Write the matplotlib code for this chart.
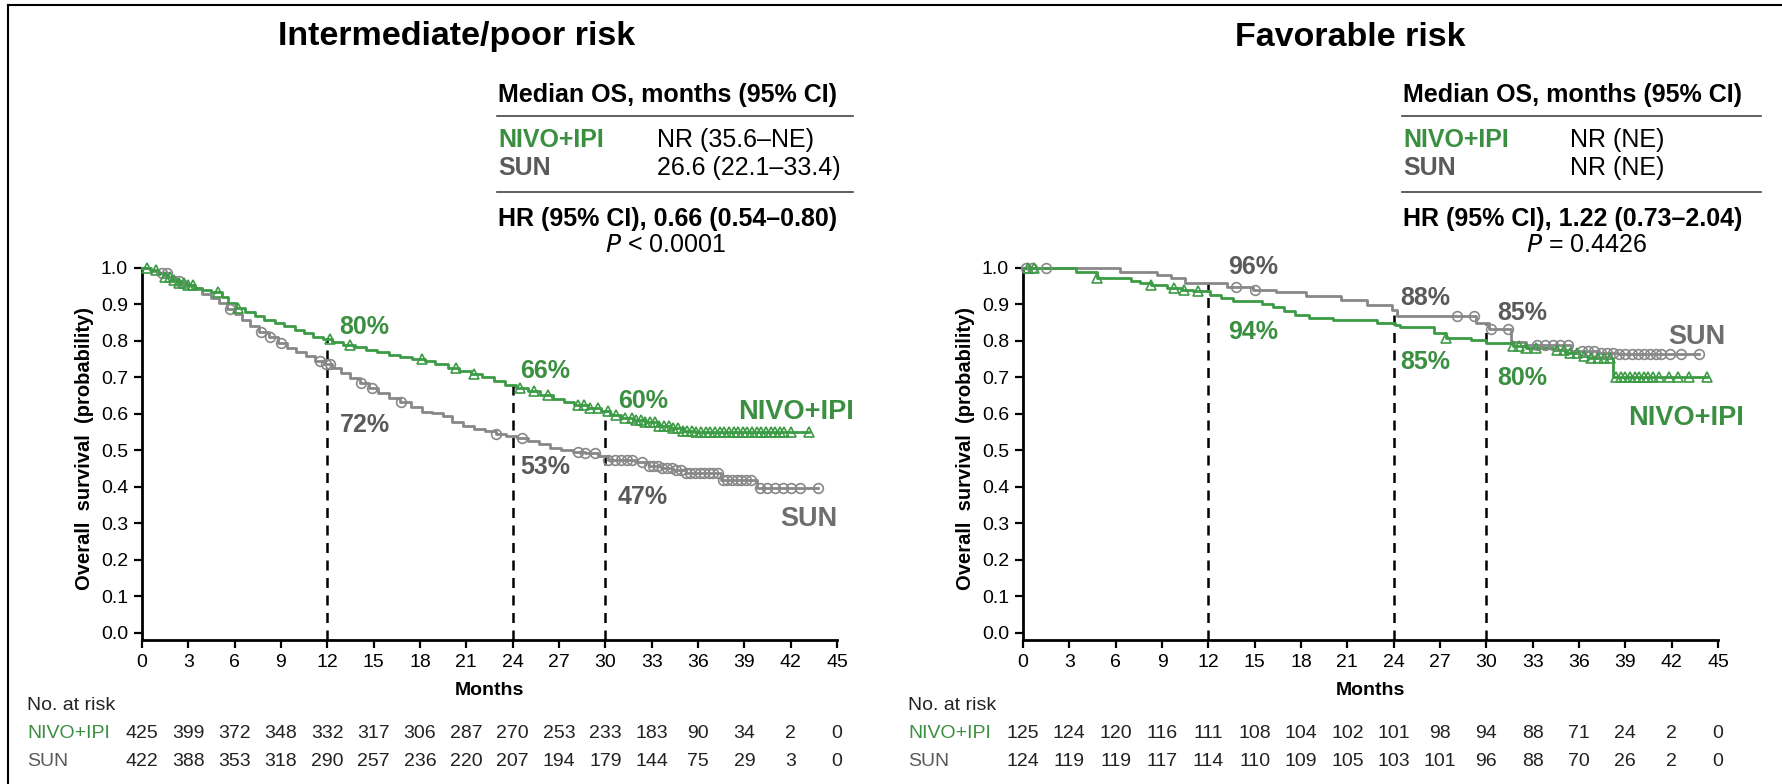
import numpy as np
import matplotlib
matplotlib.use('Agg')
import matplotlib.pyplot as plt
from matplotlib.lines import Line2D

# ---- data ----
months_ticks = [0, 3, 6, 9, 12, 15, 18, 21, 24, 27, 30, 33, 36, 39, 42, 45]
y_ticks = [0.0, 0.1, 0.2, 0.3, 0.4, 0.5, 0.6, 0.7, 0.8, 0.9, 1.0]

# Intermediate/poor risk
ip_nivo_t = [0, 0.5, 1.0, 1.4, 1.9, 2.4, 2.9, 3.4, 3.9, 4.5, 5.2, 5.6, 6.1, 6.7, 7.3, 7.9, 8.6, 9.2,
             9.9, 10.5, 11.1, 11.7, 12.3, 13.0, 13.8, 14.5, 15.2, 16.0, 16.7, 17.5, 18.3, 19.0, 19.8,
             20.5, 21.3, 22.0, 22.8, 23.5, 24.2, 25.0, 25.8, 26.6, 27.3, 28.0, 28.9, 29.7, 30.3, 31.0,
             31.8, 32.6, 33.4, 34.2, 35.0, 35.8]
ip_nivo_s = [1.0, 0.995, 0.985, 0.975, 0.968, 0.96, 0.952, 0.945, 0.94, 0.935, 0.92, 0.905, 0.89,
             0.878, 0.868, 0.858, 0.848, 0.84, 0.83, 0.822, 0.812, 0.805, 0.797, 0.789, 0.783, 0.776,
             0.769, 0.762, 0.755, 0.75, 0.744, 0.736, 0.727, 0.718, 0.709, 0.7, 0.69, 0.68, 0.671,
             0.662, 0.652, 0.642, 0.632, 0.624, 0.616, 0.609, 0.598, 0.59, 0.583, 0.577, 0.568,
             0.561, 0.554, 0.55]
ip_nivo_cens = [0.3, 0.9, 1.5, 1.8, 2.1, 2.4, 2.7, 3.0, 3.3, 4.9, 6.2, 12.2, 13.5, 18.1, 20.3, 21.5,
                24.5, 25.4, 26.3, 28.2, 28.6, 29.0, 29.5, 30.2, 30.7, 31.3, 31.7, 32.0, 32.3, 32.6,
                32.9, 33.2, 33.5, 33.8, 34.1, 34.4, 34.7, 35.0, 35.3, 35.6, 35.9, 36.2, 36.5, 36.8,
                37.1, 37.4, 37.7, 38.0, 38.3, 38.6, 38.9, 39.2, 39.5, 39.8, 40.1, 40.4, 40.7, 41.0,
                41.3, 41.6, 42.0, 43.2]
ip_sun_t = [0, 0.6, 1.1, 1.7, 2.2, 2.8, 3.3, 3.9, 4.5, 5.0, 5.5, 6.0, 6.5, 7.0, 7.6, 8.2, 8.8, 9.4,
            10.0, 10.6, 11.2, 11.8, 12.3, 12.9, 13.5, 14.1, 14.7, 15.3, 16.0, 16.7, 17.4, 18.1, 18.8,
            19.5, 20.1, 20.8, 21.5, 22.2, 22.9, 23.6, 24.3, 25.0, 25.7, 26.4, 27.1, 27.9, 28.7, 29.5,
            30.2, 31.9, 32.8, 33.6, 34.4, 35.2, 37.5, 39.8]
ip_sun_s = [1.0, 0.993, 0.985, 0.975, 0.963, 0.952, 0.942, 0.93, 0.917, 0.903, 0.888, 0.873, 0.858,
            0.842, 0.825, 0.81, 0.795, 0.782, 0.77, 0.758, 0.746, 0.736, 0.725, 0.712, 0.698, 0.684,
            0.67, 0.657, 0.644, 0.632, 0.62, 0.606, 0.602, 0.595, 0.578, 0.568, 0.56, 0.552, 0.546,
            0.54, 0.533, 0.527, 0.518, 0.508, 0.502, 0.497, 0.492, 0.485, 0.474, 0.469, 0.458,
            0.452, 0.446, 0.438, 0.419, 0.396]
ip_sun_cens = [1.3, 1.6, 2.4, 5.7, 7.7, 8.3, 9.0, 11.5, 11.9, 12.2, 14.2, 14.9, 16.8, 22.9, 24.6,
               28.2, 28.7, 29.3, 30.2, 30.6, 31.0, 31.4, 31.7, 32.4, 32.8, 33.1, 33.4, 33.7, 34.0,
               34.3, 34.6, 34.9, 35.2, 35.5, 35.8, 36.1, 36.4, 36.7, 37.0, 37.3, 37.6, 37.9, 38.2,
               38.5, 38.8, 39.1, 39.4, 40.0, 40.5, 41.0, 41.5, 42.0, 42.6, 43.8]
ip_risk_nivo = [425, 399, 372, 348, 332, 317, 306, 287, 270, 253, 233, 183, 90, 34, 2, 0]
ip_risk_sun = [422, 388, 353, 318, 290, 257, 236, 220, 207, 194, 179, 144, 75, 29, 3, 0]

# Favorable risk
fav_nivo_t = [0, 3.4, 4.8, 7.0, 7.6, 8.3, 9.3, 10.3, 11.0, 12.1, 12.8, 13.6, 15.5, 16.2, 16.9, 17.6,
              18.5, 20.1, 22.9, 24.1, 24.4, 26.6, 27.4, 29.0, 30.0, 31.7, 32.6, 34.3, 35.1, 36.0,
              36.6, 38.2]
fav_nivo_s = [1.0, 0.99, 0.973, 0.965, 0.959, 0.954, 0.945, 0.94, 0.936, 0.927, 0.918, 0.909, 0.9,
              0.893, 0.881, 0.872, 0.863, 0.858, 0.849, 0.845, 0.837, 0.823, 0.807, 0.803, 0.794,
              0.786, 0.78, 0.776, 0.768, 0.759, 0.752, 0.702]
fav_nivo_cens = [0.3, 0.7, 4.8, 8.3, 9.8, 10.4, 11.3, 27.4, 31.7, 32.1, 32.6, 33.2, 34.6, 35.0, 35.4,
                 35.9, 36.3, 36.8, 37.2, 37.6, 38.0, 38.4, 38.7, 39.0, 39.3, 39.6, 39.9, 40.2, 40.5,
                 40.8, 41.2, 41.8, 42.4, 43.1, 44.3]
fav_sun_t = [0, 6.3, 8.7, 9.6, 10.5, 13.2, 14.9, 16.4, 18.3, 20.6, 22.3, 23.9, 24.2, 29.3, 30.2,
             31.6, 32.6, 35.5, 37.3, 38.5]
fav_sun_s = [1.0, 0.99, 0.981, 0.972, 0.958, 0.949, 0.94, 0.934, 0.922, 0.911, 0.899, 0.885, 0.868,
             0.848, 0.832, 0.798, 0.789, 0.773, 0.768, 0.763]
fav_sun_cens = [0.2, 0.6, 1.5, 13.8, 15.0, 28.1, 29.2, 30.3, 31.4, 33.3, 33.8, 34.3, 34.8, 35.3,
                36.2, 36.6, 37.0, 37.4, 37.8, 38.2, 38.6, 39.0, 39.4, 39.8, 40.2, 40.6, 41.0, 41.3,
                41.9, 42.6, 43.8]
fav_risk_nivo = [125, 124, 120, 116, 111, 108, 104, 102, 101, 98, 94, 88, 71, 24, 2, 0]
fav_risk_sun = [124, 119, 119, 117, 114, 110, 109, 105, 103, 101, 96, 88, 70, 26, 2, 0]

landmarks = [12, 24, 30]

# ---- styling ----
W, H = 1783, 784
GREEN = '#3c9b45'
GREEN_TXT = '#3a8f40'
GRAY = '#888888'
GRAY_TXT = '#5a5a5a'
SANS = ['Liberation Sans', 'DejaVu Sans']
plt.rcParams['font.family'] = SANS

fig = plt.figure(figsize=(W / 100, H / 100), dpi=100)


def fx(x):
    return x / W


def fy(y):
    return 1 - y / H


def surv_at(times, vals, t):
    idx = np.searchsorted(times, t, side='right') - 1
    return np.asarray(vals)[idx]


def km(ax, times, vals, cens, color, marker):
    end = max(cens)
    tt = list(times) + [end]
    ss = list(vals) + [vals[-1]]
    ax.step(tt, ss, where='post', color=color, lw=2.0, clip_on=False, zorder=3)
    cy = surv_at(times, vals, np.array(cens))
    ax.plot(cens, cy, ls='none', marker=marker, ms=7, mfc='none', mec=color, mew=1.2,
            clip_on=False, zorder=4)


def panel(x_left, title, nivo, sun, risk_nivo, risk_sun, header, labels):
    ax = fig.add_axes([fx(x_left), fy(640.3), fx(695), (640.3 - 257) / H])
    ax.set_xlim(0, 45)
    ax.set_ylim(-0.02, 1.03)
    for s in ['top', 'right']:
        ax.spines[s].set_visible(False)
    ax.spines['left'].set_bounds(-0.02, 1.0)
    ax.spines['left'].set_linewidth(2)
    ax.spines['bottom'].set_linewidth(2)
    ax.set_xticks(months_ticks)
    ax.set_yticks(y_ticks)
    ax.set_yticklabels([f'{v:.1f}' for v in y_ticks])
    ax.tick_params(axis='both', length=6, width=1.6, labelsize=14, pad=4, direction='out')
    ax.set_ylabel('Overall  survival  (probability)', fontsize=14.5, fontweight='bold',
                  labelpad=5)
    ax.set_xlabel('Months', fontsize=14, fontweight='bold', labelpad=8)

    km(ax, *sun, GRAY, 'o')
    km(ax, *nivo, GREEN, '^')

    for t in landmarks:
        top = max(surv_at(nivo[0], nivo[1], t), surv_at(sun[0], sun[1], t))
        ax.plot([t, t], [-0.02, top], color='black', lw=1.8, ls=(0, (4, 3)), zorder=2)

    for txt, x, y, col, size in labels:
        ax.text(x, y, txt, color=col, fontsize=size, fontweight='bold', ha='left', va='center',
                zorder=5)

    # title
    fig.text(fx(header['title_x']), fy(37), title, fontsize=24.5, fontweight='bold',
             ha='center', va='center')

    # median OS table
    hx = header['x']
    fs = 18
    fig.text(fx(hx), fy(95), 'Median OS, months (95% CI)', fontsize=fs, fontweight='bold',
             va='center')
    for ly in (116, 192):
        fig.add_artist(Line2D([fx(hx - 1), fx(hx + header['w'])], [fy(ly), fy(ly)],
                              color='#444444', lw=1.2))
    fig.text(fx(hx), fy(140), 'NIVO+IPI', fontsize=fs, fontweight='bold', color=GREEN_TXT,
             va='center')
    fig.text(fx(hx), fy(168), 'SUN', fontsize=fs, fontweight='bold', color=GRAY_TXT, va='center')
    fig.text(fx(hx + header['col']), fy(140), header['nivo'], fontsize=fs, va='center')
    fig.text(fx(hx + header['col']), fy(168), header['sun'], fontsize=fs, va='center')
    fig.text(fx(hx), fy(219), header['hr'], fontsize=fs, fontweight='bold', va='center')
    fig.text(fx(header['p_x']), fy(245), header['p'], fontsize=fs, va='center', ha='center')

    # number at risk
    ax.annotate('No. at risk', xy=(fx(x_left - 115), fy(706)), xycoords='figure fraction',
                fontsize=14, va='center', ha='left', color='#222222')
    ax.annotate('NIVO+IPI', xy=(fx(x_left - 115), fy(734)), xycoords='figure fraction',
                fontsize=14, va='center', ha='left', color=GREEN_TXT)
    ax.annotate('SUN', xy=(fx(x_left - 115), fy(762)), xycoords='figure fraction',
                fontsize=14, va='center', ha='left', color=GRAY_TXT)
    for m, a, b in zip(months_ticks, risk_nivo, risk_sun):
        ax.annotate(str(a), xy=(m, fy(734)), xycoords=('data', 'figure fraction'),
                    fontsize=14, ha='center', va='center', color='#222222')
        ax.annotate(str(b), xy=(m, fy(762)), xycoords=('data', 'figure fraction'),
                    fontsize=14, ha='center', va='center', color='#222222')
    return ax


panel(142, 'Intermediate/poor risk',
      (ip_nivo_t, ip_nivo_s, ip_nivo_cens), (ip_sun_t, ip_sun_s, ip_sun_cens),
      ip_risk_nivo, ip_risk_sun,
      dict(title_x=457, x=498, w=355, col=159, nivo='NR (35.6–NE)', sun='26.6 (22.1–33.4)',
           hr='HR (95% CI), 0.66 (0.54–0.80)', p=r'$\it{P}$ < 0.0001', p_x=665),
      [('80%', 12.8, 0.838, GREEN_TXT, 18), ('72%', 12.8, 0.57, GRAY_TXT, 18),
       ('66%', 24.5, 0.718, GREEN_TXT, 18), ('53%', 24.5, 0.455, GRAY_TXT, 18),
       ('60%', 30.8, 0.636, GREEN_TXT, 18), ('47%', 30.8, 0.373, GRAY_TXT, 18),
       ('NIVO+IPI', 38.6, 0.605, GREEN_TXT, 19.5), ('SUN', 41.3, 0.312, '#6e6e6e', 19.5)])

panel(1023, 'Favorable risk',
      (fav_nivo_t, fav_nivo_s, fav_nivo_cens), (fav_sun_t, fav_sun_s, fav_sun_cens),
      fav_risk_nivo, fav_risk_sun,
      dict(title_x=1350, x=1403, w=358, col=167, nivo='NR (NE)', sun='NR (NE)',
           hr='HR (95% CI), 1.22 (0.73–2.04)', p=r'$\it{P}$ = 0.4426', p_x=1586),
      [('96%', 13.3, 1.003, GRAY_TXT, 18), ('94%', 13.3, 0.825, GREEN_TXT, 18),
       ('88%', 24.4, 0.918, GRAY_TXT, 18), ('85%', 30.7, 0.877, GRAY_TXT, 18),
       ('85%', 24.4, 0.742, GREEN_TXT, 18), ('80%', 30.7, 0.699, GREEN_TXT, 18),
       ('SUN', 41.8, 0.811, '#6e6e6e', 19.5), ('NIVO+IPI', 39.2, 0.589, GREEN_TXT, 19.5)])

# outer frame (top and left edges)
fig.add_artist(Line2D([fx(8), 1], [fy(5), fy(5)], color='black', lw=1.5))
fig.add_artist(Line2D([fx(8), fx(8)], [0, fy(5)], color='black', lw=1.5))

fig.savefig('out.png', dpi=100)
